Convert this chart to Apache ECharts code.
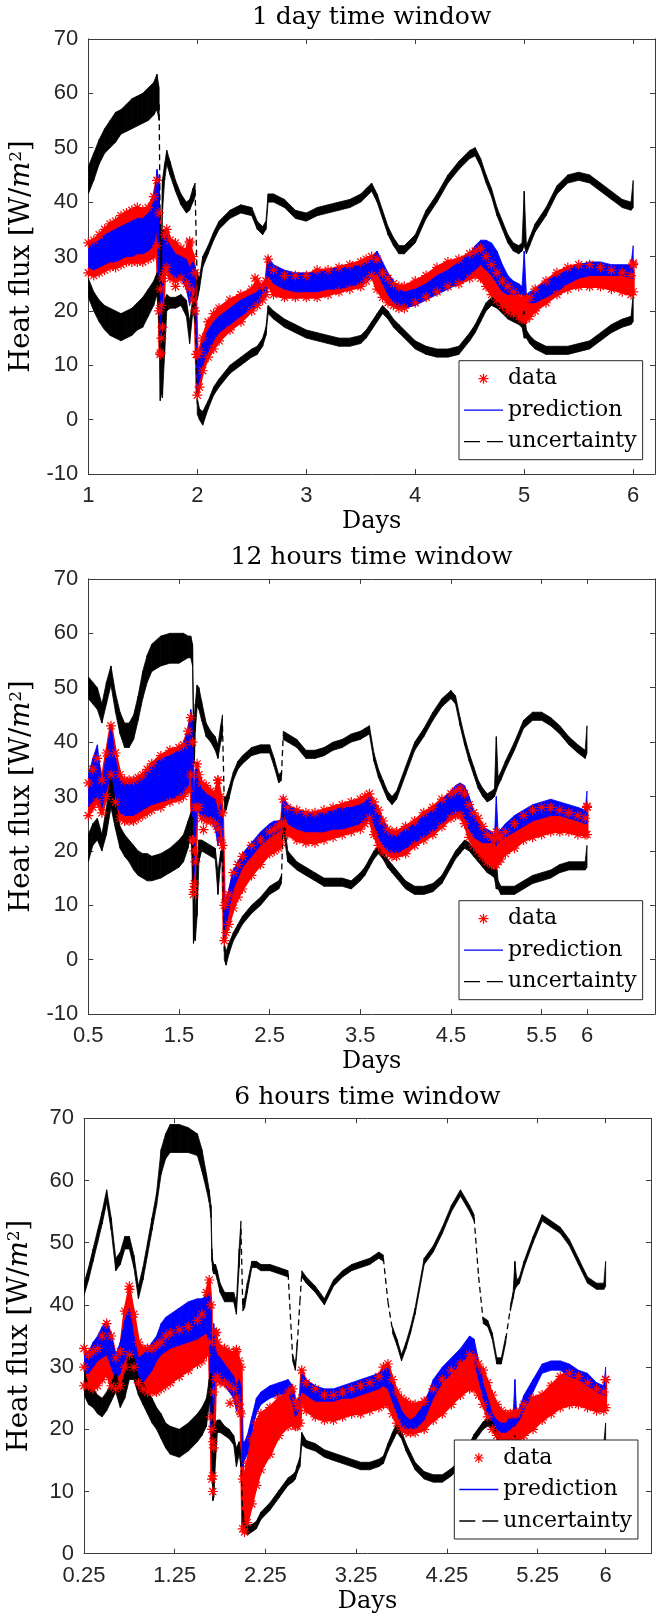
<!DOCTYPE html>
<html>
<head>
<meta charset="utf-8">
<script src="https://cdn.jsdelivr.net/npm/echarts@6.0.0/dist/echarts.min.js"></script>
<style>
  html, body { margin: 0; padding: 0; background: #ffffff; }
  #chart { width: 657px; height: 1621px; }
</style>
</head>
<body>
<div id="chart"></div>
<script>
// ---------- panel titles and axis ticks ----------
const titles = ['1 day time window', '12 hours time window', '6 hours time window'];
const xTicks1 = [1, 2, 3, 4, 5, 6];
const xTicks2 = [0.5, 1.5, 2.5, 3.5, 4.5, 5.5, 6];
const xTicks3 = [0.25, 1.25, 2.25, 3.25, 4.25, 5.25, 6];
const legendNames = ['data', 'prediction', 'uncertainty'];

// ---------- 1 day window: sample times (days) ----------
const t1 = [1.00,1.05,1.10,1.15,1.20,1.25,1.30,1.35,1.40,1.45,1.50,1.55,1.60,
  1.63,1.65,1.66,1.67,1.68,1.70,1.72,1.75,
  1.80,1.85,1.90,1.93,1.96,1.98,2.00,2.02,2.05,
  2.10,2.15,2.20,2.30,2.40,2.50,2.55,2.60,2.63,2.65,
  2.70,2.80,2.90,3.00,3.10,3.20,3.30,3.40,3.50,
  3.55,3.60,3.65,3.70,3.75,3.80,3.85,3.90,
  4.00,4.10,4.20,4.30,4.40,4.50,
  4.55,4.60,4.65,4.70,4.75,4.80,4.85,4.90,4.95,
  4.98,5.00,5.02,5.05,5.10,
  5.20,5.30,5.40,5.50,5.60,5.70,5.80,5.90,
  5.98,6.00];
// measured heat flux, spread of the samples (lower / upper edge)
const data1Lo = [27,26.5,27,27.5,28,28,28.5,29,29,29,29,29.5,30,
  32,20,12,15,17,27,28,26,
  25.5,26,25,24,22,20,4.5,6,9,
  11.5,13,14.5,16.5,18,20,21,22,23,25,
  23,22.5,22.5,22.5,22.5,23,23.5,24,24.5,
  25.5,26.5,24,22.5,21.5,21,20.5,20.5,
  21.5,22.5,23.5,24.5,25,26,
  26.5,26,24.5,23,22,21,20,19.5,19,
  18.5,18.5,18.5,19,20,
  21.5,23,24,24.5,24.5,24.5,24,23.5,
  23,23.5];
const data1Hi = [32.5,33,34,35,36,36.5,37.5,38,38.5,39,38.5,39,41,
  44,38,24,21,26,34,35,33,
  32.5,31.5,31,32.5,30,27,12,12.5,15,
  18,19.5,20.5,22,23,24,25.5,24.5,25.5,29.5,
  27.5,26.5,26.5,26.5,27.5,27.5,28,28.5,29,
  29.5,30,29.5,27,26,25,24.5,24.5,
  25.5,26.5,28,29,29.5,30.5,
  31,31.5,30,28.5,27,25.5,24.5,23.5,22.5,
  22,22,22,22.5,24,
  25.5,27,28,28.5,28.5,28,27.5,27,
  26.5,28.5];
const data1OutT = [1.66, 1.80, 1.93, 1.99, 2.53, 6.00];
const data1OutV = [12.3, 24.5, 32.8, 12, 26, 28.8];
// prediction band
const pred1Lo = [28,27.5,28,28.5,29,29,29.5,30,30,30.5,30.5,31,32,
  35,20,15,16,22,28,28,27,
  26,26,24,21,25,24,5,7,10,
  12.5,14.5,16,17.5,19,20.5,21,22,23,26.5,
  25,24,23.5,23.5,23.5,24,24,24.5,25,
  25.5,26,27,25,23,21.5,20.5,20.5,
  21,22,23,24,25,26.5,
  27.5,28.5,27.5,26.5,25,23.5,23,23,23,
  23,22,21.5,21.5,21.5,
  22.5,23.5,25,26,26.5,26.5,26.5,26.5,
  26,26];
const pred1Hi = [32,32.5,33,34,34.5,35,35.5,36,36.5,37,37,38,40,
  46,44,26,31,35,35,34,32,
  30.5,30,29.5,28,29,28,10,12,14.5,
  16.5,18,19,20.5,22,23,23.5,25,26,30,
  28.5,27.5,27,27,27,27.5,28,28,28.5,
  29,30,31,29,27,25.5,24,23.5,
  24,25,26.5,27.5,29,30.5,
  32,33,33,32.5,31,28.5,26.5,25.5,25,
  24.5,31,23,23.5,24,
  25.5,26.5,27.5,28.5,29,29,28.5,28.5,
  28.5,32];
// upper uncertainty bound
const upper1Lo = [41.5,44,47,49,50,51,52.5,53,53.5,54,54.5,55,56,
  57,55,30,24,38,44,47,45,
  42,39.5,38,38.5,40,41,22,24,28,
  30.5,33,35,37,38,37.5,35,34,35,40,
  40,39,37,36.5,37.5,38,38.5,39,40,
  41,42,40,37,34,32,30.5,30.5,
  32.5,37,40,43.5,46,48,
  48.5,46.5,43.5,41,37.5,35,32.5,31,30.5,
  31,32,30.5,32,34.5,
  37.5,41.5,43.5,44,43.5,42,40.5,39,
  38.5,39];
const upper1Hi = [46.5,49,51.5,53.5,55,56.5,57,58,59,59.5,60,61,62,
  63.5,61,36,30,44,47,49.5,47.5,
  44,41.5,40,40.5,42.5,43.5,27,26,30,
  32,34.5,36.5,38.5,39.5,39,36.5,35.5,36.5,41.5,
  41.5,40.5,38.5,38,39,39.5,40,40.5,41.5,
  42.5,43.5,41.5,38.5,35.5,33.5,32,32,
  34,38.5,41.5,45,47.5,49.5,
  50,48,45,42.5,39,36.5,34,32.5,32,
  32.5,42,32,33.5,36,
  39,43,45,45.5,45,43.5,42,40.5,
  40,44];
// lower uncertainty bound
const lower1Lo = [22.5,20,18,16.5,15.5,15,14.5,15,15.5,16.5,17,19,21,
  23,18,3.5,5,4,12,20,20.5,
  20.5,21,19,14,20,18,1,0,-1,
  2,4.5,6,8.5,10,11.5,12,13.5,15.5,19.5,
  18.5,17,16,15,14.5,14,13.5,13.5,14,
  15,16.5,18,19.5,18.5,17,16,15,
  13,12,11.5,11.5,12,14.5,
  16,18,20,21,20.5,19.5,18.5,18,17.5,
  17,15,15,14,13,
  12,12,12,12.5,13,14.5,16,17,
  17.5,18];
const lower1Hi = [26,23.5,22,21,20.5,20,19.5,20,20.5,21.5,22.5,24,25.5,
  27,26,10,15,20,22,23,22.5,
  22.5,23,22,18,22.5,23,4,2,1.5,
  3.5,6,7.5,10,11.5,13,13.5,15,17,21,
  20,18.5,17.5,16.5,16,15.5,15,15,15.5,
  16.5,18,19.5,21,20,18.5,17.5,16.5,
  14.5,13.5,13,13,13.5,16,
  17.5,19.5,21.5,22.5,22,21,20,19.5,19,
  19,20,16.5,15.5,14.5,
  13.5,13.5,13.5,14,14.5,16,17.5,18.5,
  19,23];

// ---------- 12 hours window ----------
const t2 = [0.50,0.55,0.60,0.65,0.70,0.75,0.80,0.85,0.90,0.95,1.00,1.05,1.10,1.15,1.20,
  1.30,1.40,1.50,1.55,1.60,
  1.63,1.65,1.66,1.67,1.68,1.70,1.72,1.75,
  1.80,1.85,1.90,1.93,1.96,1.98,2.00,2.02,2.05,
  2.10,2.15,2.20,2.30,2.40,2.50,2.55,2.60,2.63,2.65,
  2.70,2.80,2.90,3.00,3.10,3.20,3.30,3.40,3.50,
  3.55,3.60,3.65,3.70,3.75,3.80,3.85,3.90,
  4.00,4.10,4.20,4.30,4.40,4.50,
  4.55,4.60,4.65,4.70,4.75,4.80,4.85,4.90,4.95,
  4.98,5.00,5.02,5.05,5.10,
  5.20,5.30,5.40,5.50,5.60,5.70,5.80,5.90,
  5.98,6.00];
const data2Lo = [26.5,28,29,27,30,34,29,26,25.5,25.5,25.5,26,26.5,27,27.5,
  28,29,29.5,30,31,
  34,22,12,14,18,28,28,26,
  25.5,25.5,25,24,22,21,3.5,5,6.5,
  9.5,11.5,13,15.5,17.5,19.5,20,20.5,21.5,25,
  23,22,21.5,21.5,22,22.5,23,23.5,24,
  25,26,23,21,20,19.5,19,19,
  19.5,21,22,23,24.5,26,
  26.5,26.5,25,22.5,21,20,19,18,17.5,
  17.5,17.5,18,18.5,19.5,
  20.5,22,22.5,23,23.5,23.5,23.5,23,
  23,23];
const data2Hi = [32.5,35,37,33,38,43,38,34,33,33,33,33.5,34,35,36,
  37.5,38.5,39,39.5,42,
  44.5,40,22,20,28,36,34,32.5,
  32,31,30.5,33,30,27,10,11,12,
  16,17.5,19,21,22,23.5,24,24.5,25,29.5,
  28,27.5,27,27,27.5,28,28.5,29,29.5,
  30,30.5,29,27.5,25.5,24,23.5,23.5,
  24.5,25.5,27,28,29.5,30.5,
  31,31.5,30.5,28.5,27,26,24.5,23,22.5,
  22,23.5,22.5,22.5,23.5,
  25,26.5,27.5,28,28,27.5,27,26.5,
  26,28];
const data2OutT = [1.66, 1.77, 1.93, 6.00];
const data2OutV = [12.9, 23.9, 33, 28.2];
const pred2Lo = [28,29,30,28,31,34,29,27,26.5,26.5,26.5,27,27.5,28,28.5,
  29,29.5,30,30.5,32,
  36,20,14.5,16,22,28,27,26.5,
  26,25.5,24,21,24.5,24,4,6,9,
  13,15,17,19,21,22.5,23,23.5,24,27,
  25,24,23.5,23.5,23.5,24,24,24.5,25,
  25.5,26,25,22.5,21,20,19.5,19.5,
  20.5,21.5,22.5,23.5,25,26.5,
  27,27,26,24,22.5,22,21.5,21.5,21.5,
  21.5,21,21.5,22,22.5,
  23.5,24.5,25.5,26,26.5,26.5,26,25.5,
  25,25];
const pred2Hi = [34,37,39.5,32,38,43,37,33,32.5,32.5,33,33.5,34,35,35.5,
  37,37.5,38.5,39.5,42,
  46,44,24,30,35,35,33,31.5,
  30.5,30,29.5,27,28.5,27,9,11,13,
  16.5,18,19.5,21.5,23.5,25,25.5,25.5,26,30,
  28.5,27.5,27,27,27,27.5,28,28,28.5,
  29,30,29,27,25.5,24,23.5,23,
  24,25,26.5,27.5,29.5,31,
  32,32.5,32,30,27.5,25,24.5,24,23.5,
  23,30,23.5,24,25,
  26.5,27.5,28.5,29,29.5,29,28.5,28,
  27.5,31];
const upper2Lo = [48,47,46,43.5,47,50.5,45.5,41.5,39,39,40.5,44,48,51,53,
  54,54.5,54.5,55,55.5,
  55.5,54,40,36,42,46.5,46,44,
  41,40,38.5,37,40,41,27,27.5,29.5,
  33,35,36,37.5,38,38,35.5,32.5,33,40.5,
  40,39,37,37,37.5,38.5,39,40,40.5,
  41,41.5,36.5,33.5,31.5,29.5,28.5,29.5,
  34,38.5,41,44,46.5,48,
  47,43,39.5,36.5,34,31.5,30,29,29.5,
  30,31,32,33,35,
  38.5,42.5,44,44,43,41.5,39.5,38,
  37,38];
const upper2Hi = [52,51,50,47,51,54,49,45.5,43.5,43.5,45,48.5,53,56,58,
  59.5,60,60,60,59.5,
  59.5,58,46,44,47,50.5,50,47.5,
  43.5,42,41,39.5,43,45,30,30,31.5,
  34.5,36.5,37.5,39,39.5,39.5,37,34,34.5,42,
  41.5,40.5,38.5,38.5,39,40,40.5,41.5,42,
  42.5,43,38,35,33,31,30,31,
  35.5,40,42.5,45.5,48,49.5,
  48.5,44.5,41,38,35.5,33,31.5,30.5,31,
  31.5,41,33.5,34.5,36.5,
  40,44,45.5,45.5,44.5,43,41,39.5,
  38.5,43];
const lower2Lo = [18,21,22,20,23,28,24,20.5,19,18,16.5,15.5,15,14.5,14.5,
  15,16,17,18,20.5,
  23,18,3,4,3.5,8,18,20,
  19.5,19,18.5,12,18,18,0,-1,1,
  3.5,5,6.5,8.5,10,12,12.5,13,14,24,
  18,16.5,15.5,14.5,13.5,13.5,13.5,13,14.5,
  15.5,17,18.5,19.5,18.5,17,16,15,
  13,12,12,12.5,14,17,
  18.5,19.5,20.5,20,19,18,17,16,15.5,
  15,13,13,12,12,
  12,13,14,14.5,15,16,16.5,16.5,
  16.5,17];
const lower2Hi = [23,25,26,23,28,34,29,24.5,23,22,21,20,19.5,19.5,19,
  19.5,20.5,22,23,25.5,
  27,26,10,14,8,18,22,22,
  21.5,21,20.5,16,20,20,3,1.5,3,
  5,6.5,8,10,11.5,13.5,14,14.5,15.5,27,
  20,18,17,16,15,15,15,14.5,16,
  17,18.5,20,21,20,18.5,17.5,16.5,
  14.5,13.5,13.5,14,15.5,18.5,
  20,21,22,21.5,20.5,19.5,18.5,17.5,17,
  16.5,18,14.5,13.5,13.5,
  13.5,14.5,15.5,16,16.5,17.5,18,18,
  18,21];

// ---------- 6 hours window ----------
const t3 = [0.25,0.30,0.35,0.40,0.45,0.50,0.55,0.60,0.65,0.70,0.75,0.80,0.85,0.90,0.95,1.00,1.05,1.10,1.15,1.20,
  1.30,1.40,1.50,1.55,1.60,
  1.63,1.65,1.66,1.67,1.68,1.70,1.72,1.75,
  1.80,1.85,1.90,1.93,1.96,1.98,2.00,2.02,2.05,
  2.10,2.15,2.20,2.30,2.40,2.50,2.55,2.58,2.60,2.63,2.65,
  2.70,2.80,2.90,3.00,3.10,3.20,3.30,3.40,3.50,
  3.55,3.60,3.65,3.70,3.75,3.80,3.85,3.90,
  4.00,4.10,4.20,4.30,4.40,4.50,
  4.55,4.60,4.65,4.70,4.75,4.80,4.85,4.90,4.95,
  4.98,5.00,5.02,5.05,5.10,
  5.20,5.30,5.40,5.50,5.60,5.70,5.80,5.90,
  5.98,6.00];
const data3Lo = [27,27,26.5,27,28,29,27,26.5,27,30,32,30,27.5,26.5,26,26,26,26.5,27,27.5,
  28.5,29.5,30.5,31,32,
  34,22,12,12.5,17,28,28.5,27.5,
  27.5,27,26.5,25,24,22.5,4,3.5,5,
  8,11,13.5,16,19,20.5,21,20.5,20.5,21,25,
  23,22,21.5,21.5,22,22.5,22.5,23,23.5,
  24,24,22.5,21,20,19.5,19.5,19.5,
  20,21.5,22.5,24,25.5,26.5,
  26.5,25.5,24,22,20,19,18.5,18.5,18,
  18,18,18,18.5,19,
  20,21.5,22.5,23.5,24,24,23.5,23,
  23,23.5];
const data3Hi = [33,32,32.5,33,35,37,35,31.5,32.5,39,42.5,38.5,34,33,33,33,33.5,34,35,35.5,
  36,36.5,37.5,38.5,42,
  44,40,20,18,26,35.5,34,33,
  33,32.5,32,32.5,31,30,12,12.5,14.5,
  18.5,21,22.5,23.5,25,26,26.5,24.5,23.5,24,29.5,
  27.5,26.5,25.5,25.5,26,26.5,27,27.5,28.5,
  30,30.5,28,26,25,24.5,24,24,
  24.5,26.5,28,29.5,30.5,32,
  31.5,30.5,29.5,27.5,25.5,24,23,22.5,22.5,
  22.5,22.5,22.5,23,24,
  25,25.5,27,28.5,29,28.5,27.5,26.5,
  26,28];
const data3OutT = [0.25, 0.75, 1.67, 1.71, 1.86, 1.93, 1.97, 6.00];
const data3OutV = [30, 43, 10, 35.6, 24.2, 32.8, 22.8, 28];
const pred3Lo = [29,29,30,31,31.5,32,30,28,29,31,32,30,27.5,27.5,28.5,29.5,31,32,32.5,33,
  33.5,34,34.5,35,35.5,
  34,20,16,18,24,29,28.5,28,
  27,26,25,23,24,23,14,15,16,
  19.5,22.5,24,25,25.5,26,24,22,22.5,23.5,26,
  25.5,24.5,24.5,24.5,25,25,25.5,26,26.5,
  27,26.5,24.5,22.5,20.5,20,19.5,20,
  21.5,25,27.5,29,30.5,32,
  31,28,25,22.5,20.5,20,19.5,19.5,20,
  20.5,20.5,21,21.5,23,
  26,29,29.5,29.5,28.5,28,27,26,
  25.5,25.5];
const pred3Hi = [32,32.5,34,35,36.5,37.5,35,32,34,37.5,39.5,35,31.5,32,33,34,35,37,38,38.5,
  39.5,40.5,41,41,41.5,
  42,40,26,33,37,33,32,31.5,
  30.5,29.5,28.5,27,28,27,18,18,19,
  22,25,26,27,27.5,28,27,24.5,24.5,25.5,29,
  28,27,26.5,26.5,27,27.5,28,28.5,29,
  29.5,30,27.5,25,23,22,21.5,22,
  24,28,30,31.5,33,35,
  34.5,31,27.5,25,22.5,21.5,21,21,22,
  22,28,22.5,23.5,25.5,
  28,30.5,31,31,30.5,29.5,29,27.5,
  27,30];
const upper3Lo = [41.5,44,47,50,53,56.5,52,45.5,46.5,49,49,46,41,44,48,52,56,61,63.5,64.5,
  64.5,64.5,64,61.5,58.5,
  56.5,54,47,45.5,45,45,44,42,
  40.5,40.5,40.5,38.5,46,51,39,39.5,42,
  46,46,45.5,45.5,45,44.5,31,29.5,33,40,44.5,
  43.5,42,40,43,44.5,45.5,46,46.5,47.5,
  47,40,35.5,33.5,31,33,35.5,38.5,
  46.5,48.5,51.5,55,57.5,55,
  53.5,44,37,36.5,34.5,30.5,30.5,34,39,
  41,42.5,43,43.5,46,
  50,53.5,52.5,51.5,49.5,46.5,43.5,42.5,
  42.5,43];
const upper3Hi = [43.5,46,49,52,55,58.5,54,47.5,48.5,51,51,48,43,46,50,54,58,65,67.5,69,
  69,68.5,67.5,65,61,
  58.5,56,49,47,46.5,46.5,45.5,43.5,
  42,42,42,40.5,49,53.5,41,41,43.5,
  47,47,46.5,46.5,46,45.5,32,30.5,34,41,45.5,
  44.5,43,41,44,45.5,46.5,47,47.5,48.5,
  48,41,36.5,34.5,32,34,36.5,39.5,
  47.5,49.5,52.5,56,58.5,56,
  54.5,45,38,37.5,35.5,31.5,31.5,35,40,
  42,47,44,44.5,47,
  51,54.5,53.5,52.5,50.5,47.5,44.5,43.5,
  43.5,47];
const lower3Lo = [25.5,24,23.5,22.5,22,23,24.5,26,23.5,25,28,28,25.5,24,22.5,21,20,18.5,17,16,
  15.5,16.5,18,19,20.5,
  24,25,16,8.5,9,15,19.5,19.5,
  19,18.5,17.5,14,16,14,5,3.5,3,
  3.5,4,5.5,7,9,11,11.5,12,13,14,17.5,
  17,16.5,15.5,15,14.5,14,13.5,13.5,14,
  14.5,16.5,18,19.5,18.5,16.5,15,13.5,
  12,11.5,11.5,12.5,14,16.5,
  18,19,20,20.5,20,18.5,17.5,16.5,16,
  15.5,14,14,13,12.5,
  11.5,11.5,12,13,14,15,16,16.5,
  16.5,17];
const lower3Hi = [29.5,27,26.5,25.5,25,26,27.5,29,26.5,29,32.5,31.5,28.5,27.5,26,25,23.5,22.5,21,20.5,
  20,21,22.5,23.5,25,
  28,29,24,16,20,21,21.5,21.5,
  20.5,20,19,17,18,16,7,5,4.5,
  4.7,5.2,6.7,8.2,10.2,12.2,12.7,13.2,14.2,15.5,19.5,
  18.2,17.7,16.7,16.2,15.7,15.2,14.7,14.7,15.2,
  15.7,17.7,19.5,21,19.7,17.7,16.2,14.7,
  13.2,12.7,12.7,13.7,15.2,17.7,
  19.2,20.2,21.2,21.7,21.2,19.7,18.7,17.7,17.2,
  16.7,19,15.2,14.2,13.7,
  12.7,12.7,13.2,14.2,15.2,16.2,17.2,17.7,
  17.7,21];

// ---------- styling ----------
const AXIS = '#3c3c3c';
const TICK_TEXT = '#262626';
const RED = '#ff0000', BLUE = '#0000ff', BLACK = '#000000';
const SERIF = 'DejaVu Serif';
const SANS = 'Liberation Sans';
// asterisk marker (horizontal, vertical and two diagonal bars)
const STAR = 'path://M0,8.8H20V11.2H0ZM8.8,0H11.2V20H8.8ZM2.05,3.75L3.75,2.05L17.95,16.25L16.25,17.95ZM16.25,2.05L17.95,3.75L3.75,17.95L2.05,16.25Z';
const SOLID = 'path://M0,0H40V1.3H0Z';
const DASHED = 'path://M0,0H16V1.3H0ZM23,0H39V1.3H23Z';

const panels = [
  { title: titles[0], t: t1, dLo: data1Lo, dHi: data1Hi, oT: data1OutT, oV: data1OutV,
    pLo: pred1Lo, pHi: pred1Hi, uLo: upper1Lo, uHi: upper1Hi, lLo: lower1Lo, lHi: lower1Hi,
    xMin: 1, xMax: 6.2, yMin: -10, xTicks: xTicks1,
    grid: { left: 88.3, top: 38.9, width: 566.7, height: 435.2 },
    titleTop: 5, legend: { left: 459, top: 360.7 } },
  { title: titles[1], t: t2, dLo: data2Lo, dHi: data2Hi, oT: data2OutT, oV: data2OutV,
    pLo: pred2Lo, pHi: pred2Hi, uLo: upper2Lo, uHi: upper2Hi, lLo: lower2Lo, lHi: lower2Hi,
    xMin: 0.5, xMax: 6.75, yMin: -10, xTicks: xTicks2,
    grid: { left: 88.3, top: 578.9, width: 566.7, height: 435.2 },
    titleTop: 545, legend: { left: 459, top: 900.7 } },
  { title: titles[2], t: t3, dLo: data3Lo, dHi: data3Hi, oT: data3OutT, oV: data3OutV,
    pLo: pred3Lo, pHi: pred3Hi, uLo: upper3Lo, uHi: upper3Hi, lLo: lower3Lo, lHi: lower3Hi,
    xMin: 0.25, xMax: 6.5, yMin: 0, xTicks: xTicks3,
    grid: { left: 84, top: 1118.3, width: 567, height: 435.4 },
    titleTop: 1084.5, legend: { left: 454.3, top: 1440 } }
];

// filled band between a lower and an upper edge, one quad per sample interval;
// for the dashed uncertainty bounds, near-vertical jumps (much taller than the
// band is thick) are drawn as a dashed stroke
function band(name, t, lo, hi, color, gi, edge, dashSteep) {
  return {
    type: 'custom', name: name, xAxisIndex: 2 * gi, yAxisIndex: 2 * gi,
    silent: true, clip: true, itemStyle: { color: color },
    data: t.map((x, k) => [x, lo[k], hi[k]]),
    encode: { x: 0, y: [1, 2] },
    renderItem: function (params, api) {
      const k = params.dataIndexInside;
      if (k >= params.dataInsideLength - 1) return null;
      const x0 = api.value(0), l0 = api.value(1), h0 = api.value(2);
      const x1 = api.value(0, k + 1), l1 = api.value(1, k + 1), h1 = api.value(2, k + 1);
      const pts = [api.coord([x0, l0]), api.coord([x0, h0]), api.coord([x1, h1]), api.coord([x1, l1])];
      if (dashSteep) {
        const m0 = api.coord([x0, (l0 + h0) / 2]), m1 = api.coord([x1, (l1 + h1) / 2]);
        const dy = Math.abs(m1[1] - m0[1]), dx = Math.abs(m1[0] - m0[0]);
        const thick = Math.max(Math.abs(pts[0][1] - pts[1][1]), Math.abs(pts[2][1] - pts[3][1]));
        if (dy > 3.5 * thick && dy > 6 * dx) {
          return { type: 'line', shape: { x1: m0[0], y1: m0[1], x2: m1[0], y2: m1[1] },
            style: { stroke: color, lineWidth: 1.3, lineDash: [6, 4] } };
        }
      }
      return { type: 'polygon', shape: { points: pts },
        style: { fill: color, stroke: color, lineWidth: edge, lineJoin: 'round' } };
    }
  };
}

const option = {
  animation: false,
  backgroundColor: '#ffffff',
  title: panels.map(p => ({
    text: p.title, left: p.grid.left + p.grid.width / 2, top: p.titleTop, textAlign: 'center', padding: 0,
    textStyle: { fontFamily: SERIF, fontSize: 25, fontWeight: 'normal', color: '#000' }
  })),
  grid: panels.map(p => ({ left: p.grid.left, top: p.grid.top, width: p.grid.width, height: p.grid.height,
    containLabel: false, outerBoundsMode: 'none' })),
  legend: panels.map(p => ({
    orient: 'vertical', left: p.legend.left, top: p.legend.top,
    data: [{ name: legendNames[0], icon: STAR }, { name: legendNames[1], icon: SOLID }, { name: legendNames[2], icon: DASHED }],
    itemWidth: 39, itemHeight: 10, itemGap: 9.5, padding: [7, 6, 7, 5],
    borderColor: '#262626', borderWidth: 1, borderRadius: 0, backgroundColor: '#ffffff',
    selectedMode: false, z: 10,
    textStyle: { fontFamily: SERIF, fontSize: 22, color: '#000' }
  })),
  xAxis: [],
  yAxis: [],
  series: []
};

panels.forEach((p, gi) => {
  const line = { show: true, onZero: false, lineStyle: { color: AXIS, width: 1 } };
  option.xAxis.push({
    type: 'value', gridIndex: gi, min: p.xMin, max: p.xMax, position: 'bottom',
    axisLine: line,
    axisTick: { inside: true, length: 5, customValues: p.xTicks, lineStyle: { color: AXIS } },
    axisLabel: { customValues: p.xTicks, margin: 11, fontFamily: SANS, fontSize: 22, color: TICK_TEXT },
    splitLine: { show: false },
    name: 'Days', nameLocation: 'middle', nameGap: 36,
    nameTextStyle: { fontFamily: SERIF, fontSize: 24, color: '#000' }
  });
  option.xAxis.push({
    type: 'value', gridIndex: gi, min: p.xMin, max: p.xMax, position: 'top',
    axisLine: line,
    axisTick: { inside: true, length: 5, customValues: p.xTicks, lineStyle: { color: AXIS } },
    axisLabel: { show: false }, splitLine: { show: false }
  });
  option.yAxis.push({
    type: 'value', gridIndex: gi, min: p.yMin, max: 70, interval: 10, position: 'left',
    axisLine: line,
    axisTick: { inside: true, length: 5, lineStyle: { color: AXIS } },
    axisLabel: { margin: 10, fontFamily: SANS, fontSize: 22, color: TICK_TEXT },
    splitLine: { show: false },
    name: 'Heat flux [W/{m|m}{s|2}]', nameLocation: 'middle', nameGap: 50, nameRotate: 90,
    nameTextStyle: {
      fontFamily: SERIF, fontSize: 27.5, color: '#000',
      rich: {
        m: { fontFamily: SERIF, fontSize: 27.5, fontStyle: 'italic', color: '#000' },
        s: { fontFamily: SERIF, fontSize: 17, color: '#000', verticalAlign: 'top' }
      }
    }
  });
  option.yAxis.push({
    type: 'value', gridIndex: gi, min: p.yMin, max: 70, interval: 10, position: 'right',
    axisLine: line,
    axisTick: { inside: true, length: 5, lineStyle: { color: AXIS } },
    axisLabel: { show: false }, splitLine: { show: false }
  });

  // measured data: filled spread plus asterisks on its edges and stray samples
  option.series.push(band('data spread', p.t, p.dLo, p.dHi, RED, gi, 3, false));
  const stars = [];
  p.t.forEach((x, k) => { stars.push([x, p.dLo[k]]); stars.push([x, p.dHi[k]]); });
  p.oT.forEach((x, k) => stars.push([x, p.oV[k]]));
  option.series.push({
    type: 'scatter', name: 'data', xAxisIndex: 2 * gi, yAxisIndex: 2 * gi,
    data: stars, symbol: STAR, symbolSize: 10, silent: true,
    itemStyle: { color: RED, opacity: 1 }
  });
  option.series.push(band('prediction', p.t, p.pLo, p.pHi, BLUE, gi, 0.8, false));
  option.series.push(band('uncertainty', p.t, p.uLo, p.uHi, BLACK, gi, 0.8, true));
  option.series.push(band('uncertainty', p.t, p.lLo, p.lHi, BLACK, gi, 0.8, true));
});

const chart = echarts.init(document.getElementById('chart'), null, { renderer: 'canvas', width: 657, height: 1621 });
chart.setOption(option);
</script>
</body>
</html>
